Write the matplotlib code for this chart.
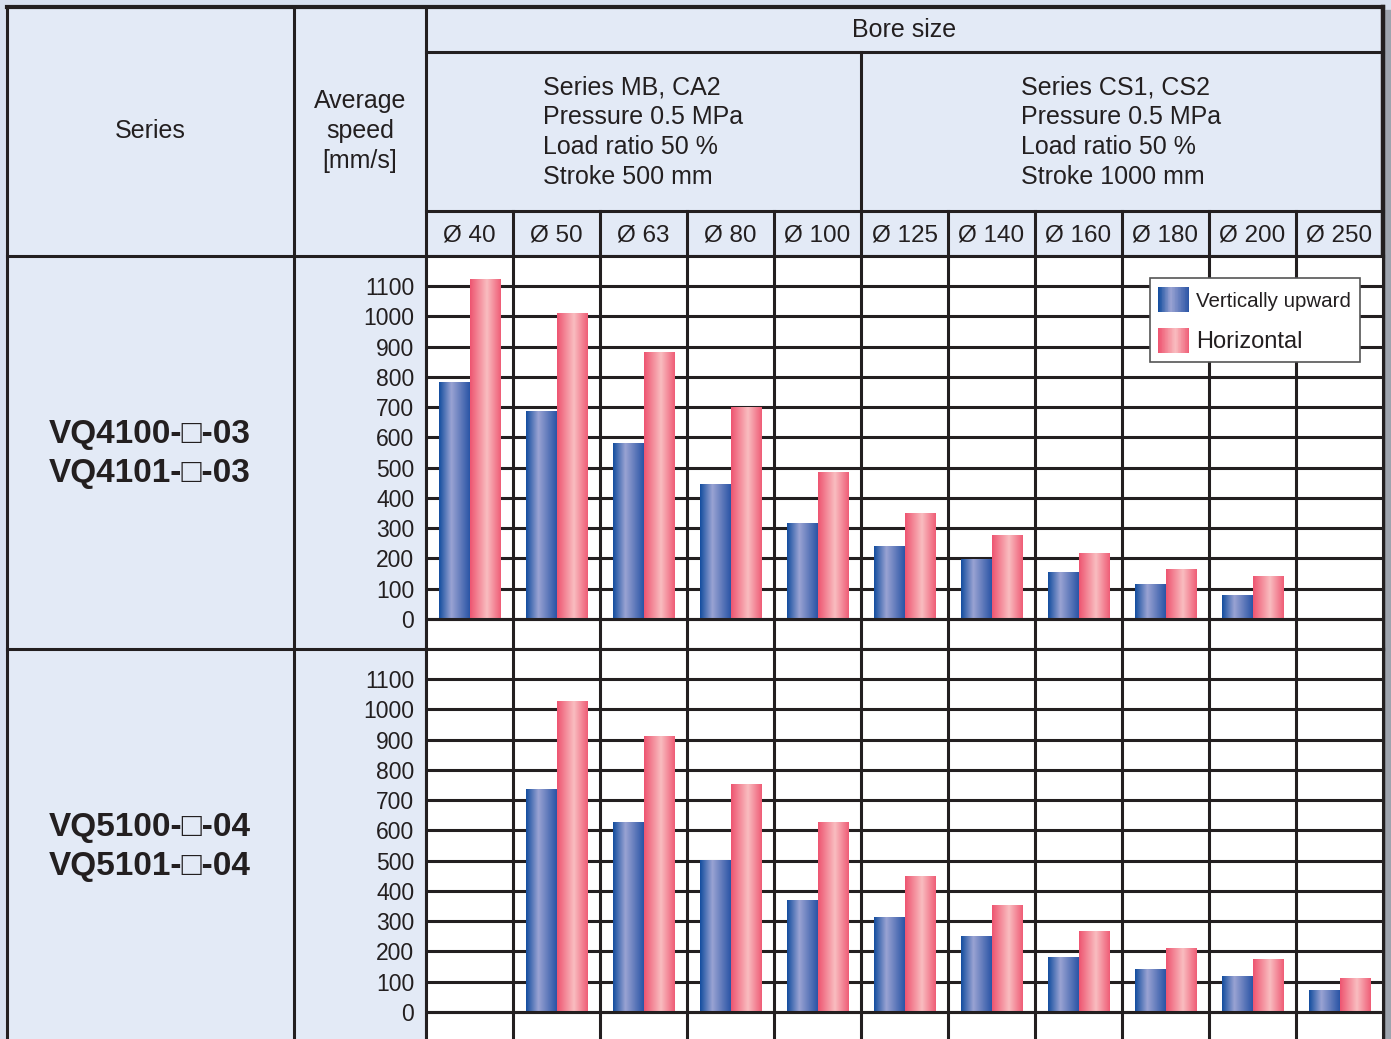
import numpy as np
import matplotlib
matplotlib.use("Agg")
import matplotlib.pyplot as plt
from matplotlib.colors import LinearSegmentedColormap
from matplotlib.patches import Rectangle
from matplotlib.legend_handler import HandlerBase

plt.rcParams['font.family'] = ['Liberation Sans', 'DejaVu Sans']

# --- data -------------------------------------------------------------
bores = ['Ø 40', 'Ø 50', 'Ø 63', 'Ø 80', 'Ø 100', 'Ø 125', 'Ø 140',
         'Ø 160', 'Ø 180', 'Ø 200', 'Ø 250']
yticks = list(range(0, 1200, 100))
nan = np.nan
vq4_up = [780, 685, 580, 445, 315, 238, 195, 152, 115, 79, nan]
vq4_hor = [1120, 1010, 880, 700, 485, 347, 277, 215, 165, 139, nan]
vq5_up = [nan, 735, 627, 501, 369, 313, 250, 181, 141, 118, 72]
vq5_hor = [nan, 1026, 911, 752, 627, 448, 352, 267, 210, 174, 111]
series_labels = ['VQ4100-□-03\nVQ4101-□-03', 'VQ5100-□-04\nVQ5101-□-04']
group_texts = ['Series MB, CA2\nPressure 0.5 MPa\nLoad ratio 50 %\nStroke 500 mm',
               'Series CS1, CS2\nPressure 0.5 MPa\nLoad ratio 50 %\nStroke 1000 mm']
legend_labels = ['Vertically upward', 'Horizontal']

ink = '#231f20'
cell = '#e3eaf6'
blue_cmap = LinearSegmentedColormap.from_list(
    'blu', [(0, '#124c9e'), (0.40, '#9aa3d3'), (1.0, '#2a54a5')])
pink_cmap = LinearSegmentedColormap.from_list(
    'pnk', [(0, '#ee5470'), (0.55, '#f9bdc0'), (1.0, '#ef5c76')])

W, H = 1391, 1039
fig = plt.figure(figsize=(W / 100, H / 100), dpi=100, facecolor='#d8e0ef')

# --- table background ----------------------------------------------------
bg = fig.add_axes([0, 0, 1, 1])
bg.set_xlim(0, W)
bg.set_ylim(H, 0)
bg.axis('off')
bg.add_patch(Rectangle((1384, 10), 7, H, color='#9ea4ae', zorder=0))
bg.add_patch(Rectangle((7, 7), 1376, H, color=cell, zorder=1))

x_left, x_avg, x_chart, x_right = 7, 294, 426, 1383
col_w = (x_right - x_chart) / 11
y_top, y_bore_hdr, y_sub, y_panel1, y_panel2 = 7, 52, 211, 256, 649


def line(xs, ys, lw=2.2):
    bg.plot(xs, ys, color=ink, lw=lw, solid_capstyle='projecting', zorder=5)


line([x_left, x_right], [y_top, y_top], 3)
line([x_left, x_left], [y_top, H + 5])
line([x_right, x_right], [y_top, H + 5], 3.2)
line([x_avg, x_avg], [y_top, H + 5])
line([x_chart, x_chart], [y_top, H + 5])
line([x_chart, x_right], [y_bore_hdr, y_bore_hdr])
line([x_chart, x_right], [y_sub, y_sub])
line([x_left, x_right], [y_panel1, y_panel1])
line([x_left, x_right], [y_panel2, y_panel2])
line([x_chart + 5 * col_w] * 2, [y_bore_hdr, y_sub])
for i in range(1, 11):
    line([x_chart + i * col_w] * 2, [y_sub, y_panel1])

bg.text((x_chart + x_right) / 2, 30, 'Bore size', ha='center', va='center',
        fontsize=18, color=ink)
bg.text(543, 132, group_texts[0], ha='left', va='center', fontsize=18,
        color=ink, linespacing=1.3)
bg.text(1021, 132, group_texts[1], ha='left', va='center', fontsize=18,
        color=ink, linespacing=1.3)
bg.text(150, 131, 'Series', ha='center', va='center', fontsize=18, color=ink)
bg.text(360, 131, 'Average\nspeed\n[mm/s]', ha='center', va='center',
        fontsize=18, color=ink, linespacing=1.3)
for i, b in enumerate(bores):
    bg.text(x_chart + (i + 0.5) * col_w, 235, b, ha='center', va='center',
            fontsize=17.5, color=ink)
bg.text(150, 454, series_labels[0], ha='center', va='center', fontsize=24,
        fontweight='bold', color=ink, linespacing=1.3)
bg.text(150, 847, series_labels[1], ha='center', va='center', fontsize=24,
        fontweight='bold', color=ink, linespacing=1.3)


# --- gradient legend handler ---------------------------------------------
class GradientPatch(Rectangle):
    def __init__(self, cmap):
        super().__init__((0, 0), 1, 1)
        self.cmap = cmap


class GradientHandler(HandlerBase):
    def create_artists(self, legend, orig_handle, xdescent, ydescent,
                       width, height, fontsize, trans):
        n = 40
        arts = []
        for k in range(n):
            r = Rectangle((-xdescent + k * width / n, -ydescent),
                          width / n * 1.05, height,
                          color=orig_handle.cmap((k + 0.5) / n),
                          transform=trans, lw=0)
            arts.append(r)
        return arts


# --- chart panels --------------------------------------------------------
def panel(top_px, up, hor, with_legend=False):
    h_px = 393
    ax = fig.add_axes([x_chart / W, (H - top_px - h_px) / H,
                       (x_right - x_chart) / W, h_px / H])
    ax.set_facecolor('white')
    grad = np.linspace(0, 1, 256).reshape(1, -1)
    bw = 0.355
    for i in range(len(bores)):
        if not np.isnan(up[i]):
            ax.imshow(grad, cmap=blue_cmap, extent=(i - bw, i, 0, up[i]),
                      aspect='auto', interpolation='bilinear', zorder=3)
        if not np.isnan(hor[i]):
            ax.imshow(grad, cmap=pink_cmap, extent=(i, i + bw, 0, hor[i]),
                      aspect='auto', interpolation='bilinear', zorder=3)
    for i in range(1, 11):
        ax.axvline(i - 0.5, color=ink, lw=2.2, zorder=1)
    ax.axhline(0, color=ink, lw=2.2, zorder=4)
    ax.set_xlim(-0.5, 10.5)
    ax.set_ylim(-99, 1199)
    ax.set_xticks([])
    ax.set_yticks(yticks)
    ax.set_yticklabels([str(t) for t in yticks])
    ax.tick_params(axis='y', length=0, pad=8.5, labelsize=16.5, labelcolor=ink)
    ax.yaxis.grid(True, color=ink, lw=2.2)
    ax.set_axisbelow(True)
    for s in ax.spines.values():
        s.set_color(ink)
        s.set_linewidth(2.2)
    if with_legend:
        handles = [GradientPatch(blue_cmap), GradientPatch(pink_cmap)]
        leg = ax.legend(handles, legend_labels,
                        handler_map={GradientPatch: GradientHandler()},
                        loc='upper left', bbox_to_anchor=(0.7565, 0.944),
                        borderaxespad=0, fontsize=17, fancybox=False,
                        framealpha=1, edgecolor='#555555',
                        handlelength=1.3, handleheight=1.3, labelspacing=0.65,
                        borderpad=0.36, handletextpad=0.3)
        leg.get_frame().set_linewidth(1.2)
        leg.set_zorder(6)
        texts = leg.get_texts()
        texts[0].set_fontsize(14.8)
        for t in texts:
            t.set_color(ink)
    return ax


panel(y_panel1, vq4_up, vq4_hor, with_legend=True)
panel(y_panel2, vq5_up, vq5_hor)

fig.savefig('out.png', dpi=100, facecolor=fig.get_facecolor())
